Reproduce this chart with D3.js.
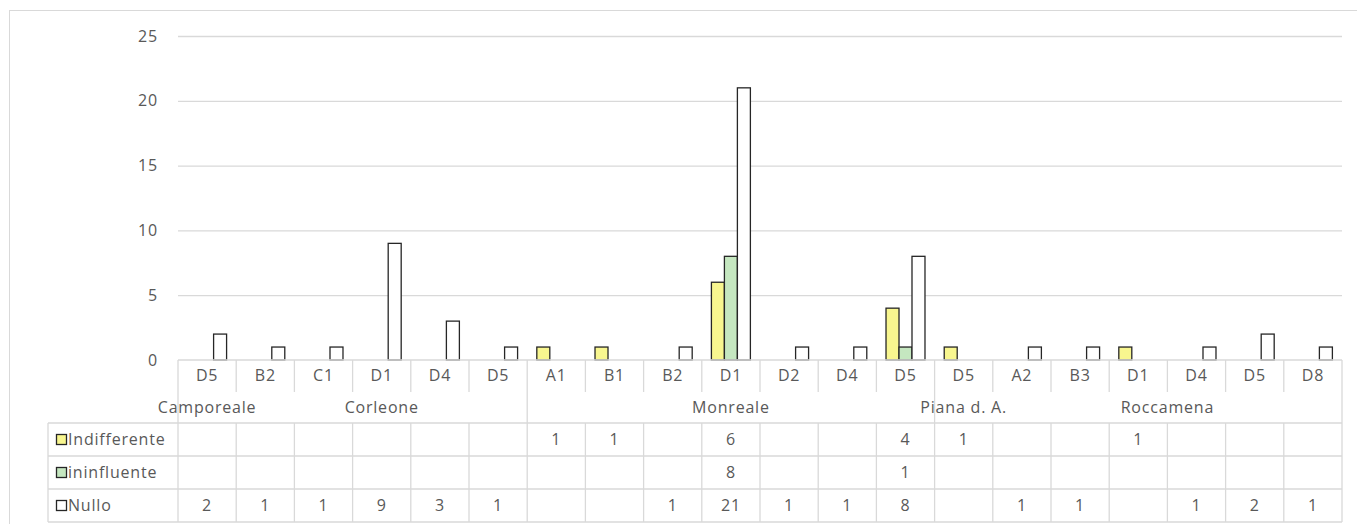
<!DOCTYPE html>
<html>
<head>
<meta charset="utf-8">
<script src="https://cdn.jsdelivr.net/npm/d3@7"></script>
<style>
  html, body { margin: 0; padding: 0; background: #fff; }
  svg text { font-family: "Open Sans", "Noto Sans", sans-serif; fill: #595959; letter-spacing: 0.8px; }
</style>
</head>
<body>
<svg id="chart" width="1357" height="524"></svg>
<script>
// Sample codes, grouped by municipality
const categories = ["D5", "B2", "C1", "D1", "D4", "D5", "A1", "B1", "B2", "D1", "D2", "D4", "D5", "D5", "A2", "B3", "D1", "D4", "D5", "D8"];
const groupNames = ["Camporeale", "Corleone", "Monreale", "Piana d. A.", "Roccamena"];
const groupSizes = [1, 5, 7, 1, 6];

// Series (null = no value)
const seriesNames = ["Indifferente", "ininfluente", "Nullo"];
const indifferente = [null, null, null, null, null, null, 1, 1, null, 6, null, null, 4, 1, null, null, 1, null, null, null];
const ininfluente  = [null, null, null, null, null, null, null, null, null, 8, null, null, 1, null, null, null, null, null, null, null];
const nullo        = [2, 1, 1, 9, 3, 1, null, null, 1, 21, 1, 1, 8, null, 1, 1, null, 1, 2, 1];

const yTicks = [0, 5, 10, 15, 20, 25];

// Column indices where the municipality row of the table is split
const groupRowBreaks = [0, 6, 13, 20];

const seriesValues = [indifferente, ininfluente, nullo];
const seriesColors = ["#f8f68f", "#c5e7c0", "#ffffff"];

const svg = d3.select("#chart");
const W = 1357;

const plotLeft = 178, plotRight = 1342, plotTop = 36, baseY = 360;
const catRowBottom = 392, groupRowBottom = 423, rowH = 33;
const legendLeft = 48;
const gridColor = "#d9d9d9";
const fontSize = "16px";

// Outer chart frame
svg.append("rect")
  .attr("x", 9.5).attr("y", 10.5)
  .attr("width", W + 10).attr("height", 600)
  .attr("fill", "none").attr("stroke", gridColor).attr("stroke-width", 1);

const x = d3.scaleBand()
  .domain(d3.range(categories.length))
  .range([plotLeft, plotRight])
  .paddingInner(0).paddingOuter(0);

const xInner = d3.scaleBand()
  .domain(seriesNames)
  .range([0, x.bandwidth()])
  .paddingInner(0)
  .paddingOuter(0.74);

const y = d3.scaleLinear().domain([0, 25]).range([baseY, plotTop]);

// Gridlines
const grid = svg.append("g")
  .attr("transform", `translate(${plotLeft},0)`)
  .call(d3.axisLeft(y).tickValues(yTicks.filter(t => t > 0)).tickSize(-(plotRight - plotLeft)).tickFormat(""));
grid.select(".domain").remove();
grid.selectAll("line").attr("stroke", gridColor).attr("stroke-width", 1.3);

// Y axis labels
const yAxis = svg.append("g")
  .attr("transform", `translate(${plotLeft},0)`)
  .call(d3.axisLeft(y).tickValues(yTicks).tickSize(0).tickPadding(20));
yAxis.select(".domain").remove();
yAxis.selectAll("text")
  .style("font-size", fontSize)
  .style("font-family", "'Open Sans', sans-serif")
  .attr("fill", "#595959");

// Bars
seriesNames.forEach((name, si) => {
  const vals = seriesValues[si];
  svg.append("g")
    .selectAll("rect")
    .data(vals.map((v, i) => ({ i, v })).filter(d => d.v != null))
    .join("rect")
    .attr("x", d => x(d.i) + xInner(name))
    .attr("y", d => y(d.v))
    .attr("width", xInner.bandwidth())
    .attr("height", d => y(0) - y(d.v))
    .attr("fill", seriesColors[si])
    .attr("stroke", "#262626")
    .attr("stroke-width", 1.3);
});

// Data table
const table = svg.append("g");
const line = (x1, y1, x2, y2) => table.append("line")
  .attr("x1", x1).attr("y1", y1).attr("x2", x2).attr("y2", y2)
  .attr("stroke", gridColor).attr("stroke-width", 1.3);

// category axis baseline
line(plotLeft, baseY, plotRight, baseY);
// column separators in the code row
d3.range(categories.length + 1).forEach(i => {
  const cx = i < categories.length ? x(i) : plotRight;
  line(cx, baseY, cx, catRowBottom);
});
// separators running through the municipality row
groupRowBreaks.forEach(i => {
  const cx = i < categories.length ? x(i) : plotRight;
  line(cx, catRowBottom, cx, groupRowBottom);
});
// horizontal lines of the value rows
d3.range(4).forEach(r => line(legendLeft, groupRowBottom + r * rowH, plotRight, groupRowBottom + r * rowH));
// vertical lines of the value rows
line(legendLeft, groupRowBottom, legendLeft, groupRowBottom + 3 * rowH);
d3.range(categories.length + 1).forEach(i => {
  const cx = i < categories.length ? x(i) : plotRight;
  line(cx, groupRowBottom, cx, groupRowBottom + 3 * rowH);
});

// code labels
table.append("g").selectAll("text")
  .data(categories)
  .join("text")
  .attr("x", (d, i) => x(i) + x.bandwidth() / 2)
  .attr("y", (baseY + catRowBottom) / 2 + 1)
  .attr("text-anchor", "middle")
  .attr("dominant-baseline", "middle")
  .style("font-size", fontSize)
  .text(d => d);

// municipality labels, centred over their columns
let start = 0;
const groups = groupNames.map((name, gi) => {
  const g = { name, start, end: start + groupSizes[gi] };
  start += groupSizes[gi];
  return g;
});
table.append("g").selectAll("text")
  .data(groups)
  .join("text")
  .attr("x", d => (x(d.start) + (d.end < categories.length ? x(d.end) : plotRight)) / 2)
  .attr("y", (catRowBottom + groupRowBottom) / 2 + 1)
  .attr("text-anchor", "middle")
  .attr("dominant-baseline", "middle")
  .style("font-size", fontSize)
  .text(d => d.name);

// value rows with legend keys
seriesNames.forEach((name, si) => {
  const cy = groupRowBottom + si * rowH + rowH / 2;
  table.append("rect")
    .attr("x", 56.5).attr("y", cy - 5)
    .attr("width", 10).attr("height", 10)
    .attr("fill", seriesColors[si])
    .attr("stroke", "#262626").attr("stroke-width", 1.3);
  table.append("text")
    .attr("x", 68).attr("y", cy + 1)
    .attr("dominant-baseline", "middle")
    .style("font-size", fontSize)
    .text(name);
  table.append("g").selectAll("text")
    .data(seriesValues[si].map((v, i) => ({ i, v })).filter(d => d.v != null))
    .join("text")
    .attr("x", d => x(d.i) + x.bandwidth() / 2)
    .attr("y", cy + 1)
    .attr("text-anchor", "middle")
    .attr("dominant-baseline", "middle")
    .style("font-size", fontSize)
    .text(d => d.v);
});
</script>
</body>
</html>
